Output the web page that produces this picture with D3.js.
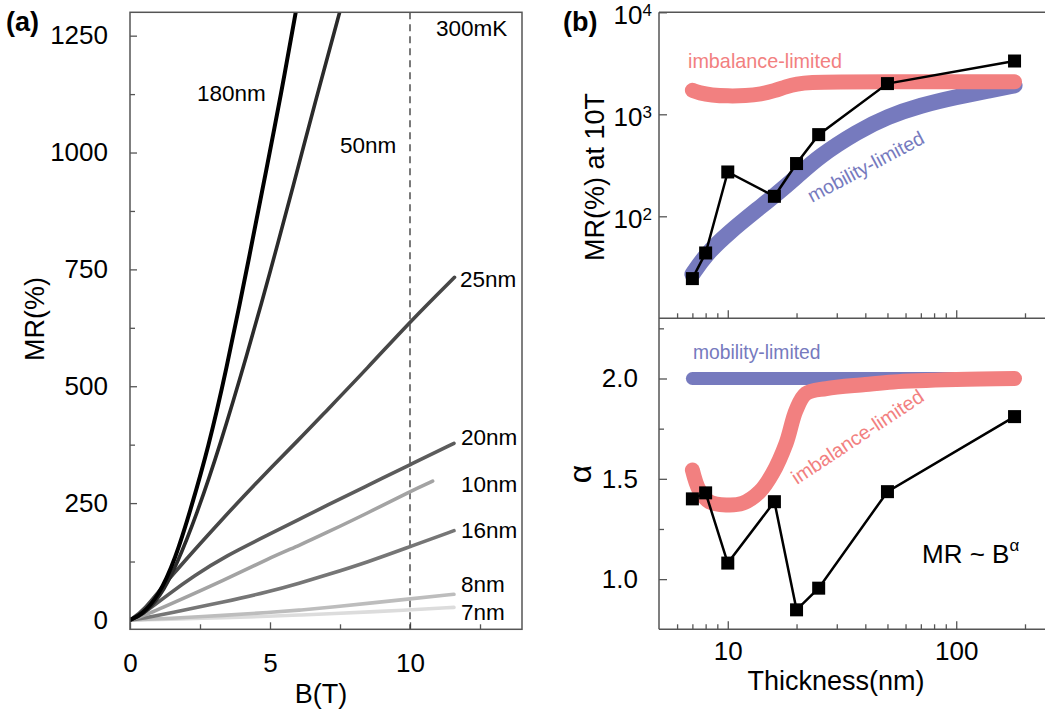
<!DOCTYPE html>
<html>
<head>
<meta charset="utf-8">
<script src="https://cdn.jsdelivr.net/npm/d3@7"></script>
<style>
  body { margin: 0; background: #fff; }
  text { font-family: "Liberation Sans", Arial, sans-serif; }
</style>
</head>
<body>
<div id="chart"></div>
<script>
// ---- panel (a): MR vs B curves ----
var b180  = [0, 0.42, 1.01, 1.61, 2.2, 2.8, 3.39, 4.29, 4.89, 5.38, 5.92, 6.2];
var mr180 = [0, 11, 50, 128, 243, 370, 520, 785, 970, 1120, 1300, 1395];
var b50   = [0, 0.45, 1.07, 1.67, 2.38, 3.2, 4.17, 5.01, 5.86, 6.6, 7.49, 7.8];
var mr50  = [0, 10, 48, 118, 225, 370, 565, 745, 935, 1105, 1300, 1370];
var b25   = [0, 0.5, 1.37, 3.39, 4.58, 6.1, 6.96, 8.5, 10, 11.59];
var mr25  = [0, 20, 88, 222, 298, 390, 444, 540, 638, 733];
var b20   = [0, 0.5, 1.37, 2.3, 3.39, 5, 6.07, 6.96, 8.5, 10, 11.57];
var mr20  = [0, 14, 55, 95, 136, 184, 216, 243, 288, 332, 378];
var b10   = [0, 0.5, 1.37, 3.39, 5, 6.07, 6.96, 8.5, 10, 10.81];
var mr10  = [0, 9, 32, 86, 133, 160, 185, 229, 275, 297];
var b16   = [0, 0.5, 1.37, 3.39, 5, 6.07, 6.96, 8.5, 10, 11.57];
var mr16  = [0, 4, 14, 39, 61, 79, 95, 124, 157, 191];
var b8    = [0, 1.37, 3.39, 5, 6.07, 6.96, 10, 11.57];
var mr8   = [0, 3, 10, 16, 21, 26, 45, 55];
var b7    = [0, 1.37, 3.39, 5, 6.07, 6.96, 10, 11.57];
var mr7   = [0, 1.5, 5, 8, 10.5, 13, 21, 27];

var curveNames  = ["180nm", "50nm", "25nm", "20nm", "10nm", "16nm", "8nm", "7nm"];
var curveColors = ["#000000", "#2b2b2b", "#474747", "#5c5c5c", "#a3a3a3", "#767676", "#bdbdbd", "#dcdcdc"];
var curveB  = [b180, b50, b25, b20, b10, b16, b8, b7];
var curveMR = [mr180, mr50, mr25, mr20, mr10, mr16, mr8, mr7];

var aTicksX = [0, 5, 10];
var aMinorX = [2.5, 7.5, 12.5];
var aTicksY = [0, 250, 500, 750, 1000, 1250];
var aMinorY = [125, 375, 625, 875, 1125];

// ---- panel (b): thickness dependence ----
var thick  = [7, 8, 10, 16, 20, 25, 50, 180];
var mr10T  = [24.5, 43.7, 272, 157, 329, 632, 2000, 3330];
var alphas = [1.40, 1.43, 1.08, 1.386, 0.847, 0.955, 1.436, 1.81];

var imbTopT  = [7, 7.5, 8.5, 10, 12, 14, 16, 18, 20, 23, 30, 50, 100, 180];
var imbTopMR = [1720, 1620, 1540, 1510, 1520, 1580, 1700, 1870, 1990, 2060, 2080, 2080, 2080, 2080];
var mobTopT  = [7, 8, 10, 13.8, 16, 20, 25, 37, 50, 70, 100, 140, 180];
var mobTopMR = [27, 42, 68, 122, 159, 243, 385, 680, 950, 1225, 1478, 1718, 1923];

var mobBotT = [7, 180];
var mobBotA = [2, 2];
var imbBotT = [7, 7.5, 8.3, 9.84, 11.6, 13.8, 15.7, 18, 19.9, 22, 27, 40, 53, 100, 180];
var imbBotA = [1.544, 1.444, 1.386, 1.37, 1.378, 1.436, 1.527, 1.677, 1.842, 1.925, 1.95, 1.97, 1.983, 1.995, 2.0];

var bMajorX = [10, 100];
var bMinorX = [6, 7, 8, 9, 20, 30, 40, 50, 60, 70, 80, 90, 200];
var bTopY   = [100, 1000, 10000];
var bBotY   = [1.0, 1.5, 2.0];
var bBotMinorY = [1.25, 1.75, 2.25];

var W = 1045, H = 715;
var axisCol = "#555";
var FONT = "'Liberation Sans', Arial, sans-serif";

var svg = d3.select("#chart").append("svg")
  .attr("width", W).attr("height", H);

function styleAxis(g, size) {
  g.select(".domain").remove();
  g.selectAll(".tick line").attr("stroke", axisCol).attr("stroke-width", 1.3);
  g.attr("font-family", FONT).attr("font-size", size || 26);
  g.selectAll(".tick text").attr("fill", "#000");
}

// ================= panel (a) =================
var xa = d3.scaleLinear().domain([0, 14]).range([130, 522]);
var ya = d3.scaleLinear().domain([-20, 1300]).range([629.3, 12.3]);

svg.append("clipPath").attr("id", "clipA")
  .append("rect").attr("x", xa(0)).attr("y", ya(1300))
  .attr("width", xa(14) - xa(0)).attr("height", ya(-20) - ya(1300));

// ticks
svg.append("g").attr("transform", "translate(" + xa(0) + ",0)")
  .call(d3.axisLeft(ya).tickValues(aTicksY).tickSize(-7).tickPadding(22).tickFormat(d3.format("d")))
  .call(styleAxis);
svg.append("g").attr("transform", "translate(" + xa(0) + ",0)")
  .call(d3.axisLeft(ya).tickValues(aMinorY).tickSize(-5).tickFormat(""))
  .call(styleAxis);
svg.append("g").attr("transform", "translate(0," + ya(-20) + ")")
  .call(d3.axisBottom(xa).tickValues(aTicksX).tickSize(-7).tickPadding(24))
  .call(styleAxis);
svg.append("g").attr("transform", "translate(0," + ya(-20) + ")")
  .call(d3.axisBottom(xa).tickValues(aMinorX).tickSize(-5).tickFormat(""))
  .call(styleAxis);

// dashed 10 T line
svg.append("line")
  .attr("x1", xa(10)).attr("x2", xa(10))
  .attr("y1", ya(1300)).attr("y2", ya(-20))
  .attr("stroke", "#333").attr("stroke-width", 1.3)
  .attr("stroke-dasharray", "7,5");

// basis spline smooths out the reading noise
var lineA = d3.line()
  .x(function(d) { return xa(d[0]); })
  .y(function(d) { return ya(d[1]); })
  .curve(d3.curveBasis);

var curvesG = svg.append("g").attr("clip-path", "url(#clipA)");
// draw light curves first so the dark ones lie on top
for (var i = curveNames.length - 1; i >= 0; i--) {
  var pts = curveB[i].map(function(b, k) { return [b, curveMR[i][k]]; });
  curvesG.append("path")
    .datum(pts)
    .attr("d", lineA)
    .attr("fill", "none")
    .attr("stroke", curveColors[i])
    .attr("stroke-width", i === 0 ? 4 : 3.6)
    .attr("stroke-linecap", "round");
}

// frame
svg.append("rect")
  .attr("x", xa(0)).attr("y", ya(1300))
  .attr("width", xa(14) - xa(0)).attr("height", ya(-20) - ya(1300))
  .attr("fill", "none").attr("stroke", axisCol).attr("stroke-width", 1.5);

// curve labels
var labA = [
  {t: "180nm", x: 197, y: 101},
  {t: "50nm",  x: 340, y: 153},
  {t: "300mK", x: 436, y: 36},
  {t: "25nm",  x: 460, y: 287},
  {t: "20nm",  x: 461, y: 445},
  {t: "10nm",  x: 461, y: 492},
  {t: "16nm",  x: 461, y: 538},
  {t: "8nm",   x: 461, y: 592},
  {t: "7nm",   x: 461, y: 620}
];
svg.selectAll(".labA").data(labA).enter().append("text")
  .attr("class", "labA")
  .attr("x", function(d) { return d.x; })
  .attr("y", function(d) { return d.y; })
  .attr("font-size", 22.5)
  .text(function(d) { return d.t; });

svg.append("text").attr("x", 321).attr("y", 703)
  .attr("text-anchor", "middle").attr("font-size", 27).text("B(T)");
svg.append("text").attr("transform", "translate(44,319) rotate(-90)")
  .attr("text-anchor", "middle").attr("font-size", 27).text("MR(%)");
svg.append("text").attr("x", 6).attr("y", 31)
  .attr("font-size", 27).attr("font-weight", "bold").text("(a)");

// ================= panel (b) =================
var xb  = d3.scaleLog().domain([5, 200]).range([659, 1025]);
var ybT = d3.scaleLog().domain([10, 10000]).range([318.3, 12.3]);
var ybB = d3.scaleLinear().domain([0.75, 2.3]).range([629.3, 318.3]);

// top y axis (log) with 10^n labels
var gTY = svg.append("g").attr("transform", "translate(659,0)")
  .call(d3.axisLeft(ybT).tickValues(bTopY).tickSize(-8).tickPadding(7).tickFormat(""))
  .call(styleAxis);
gTY.selectAll(".tick text").each(function(d) {
  var t = d3.select(this);
  t.attr("dy", "0.44em").text("10");
  t.append("tspan").attr("dy", "-8px").attr("font-size", 17)
    .text(Math.round(Math.log10(d)));
});

// bottom y axis (alpha)
svg.append("g").attr("transform", "translate(659,0)")
  .call(d3.axisLeft(ybB).tickValues(bBotY).tickSize(-8).tickPadding(21).tickFormat(d3.format(".1f")))
  .call(styleAxis);
svg.append("g").attr("transform", "translate(659,0)")
  .call(d3.axisLeft(ybB).tickValues(bBotMinorY).tickSize(-5).tickFormat(""))
  .call(styleAxis);

// x ticks on both sub-panels
[ybT(10), ybB(0.75)].forEach(function(yy, k) {
  svg.append("g").attr("transform", "translate(0," + yy + ")")
    .call(d3.axisBottom(xb).tickValues(bMajorX).tickSize(-8).tickPadding(12)
      .tickFormat(k === 1 ? d3.format("d") : ""))
    .call(styleAxis);
  svg.append("g").attr("transform", "translate(0," + yy + ")")
    .call(d3.axisBottom(xb).tickValues(bMinorX).tickSize(-5).tickFormat(""))
    .call(styleAxis);
});

// frame lines (right side runs off the page)
[12.3, 318.3, 629.3].forEach(function(yy) {
  svg.append("line").attr("x1", 659).attr("x2", W).attr("y1", yy).attr("y2", yy)
    .attr("stroke", axisCol).attr("stroke-width", 1.5);
});
svg.append("line").attr("x1", 659).attr("x2", 659).attr("y1", 12.3).attr("y2", 629.3)
  .attr("stroke", axisCol).attr("stroke-width", 1.5);

var red = "#f28080", blue = "#767abe";

function band(T, V, yScale, col, w, crv) {
  var pts = T.map(function(t, k) { return [t, V[k]]; });
  svg.append("path").datum(pts)
    .attr("d", d3.line()
      .x(function(d) { return xb(d[0]); })
      .y(function(d) { return yScale(d[1]); })
      .curve(crv || d3.curveBasis))
    .attr("fill", "none").attr("stroke", col)
    .attr("stroke-width", w).attr("stroke-linecap", "round").attr("stroke-linejoin", "round");
}

band(mobTopT, mobTopMR, ybT, blue, 16);
band(imbTopT, imbTopMR, ybT, red, 15);
band(mobBotT, mobBotA, ybB, blue, 13);
band(imbBotT, imbBotA, ybB, red, 15, d3.curveCatmullRom);

function dataSeries(V, yScale) {
  var pts = thick.map(function(t, k) { return [t, V[k]]; });
  svg.append("path").datum(pts)
    .attr("d", d3.line()
      .x(function(d) { return xb(d[0]); })
      .y(function(d) { return yScale(d[1]); }))
    .attr("fill", "none").attr("stroke", "#000").attr("stroke-width", 2.5);
  var s = 13;
  svg.append("g").selectAll("rect").data(pts).enter().append("rect")
    .attr("x", function(d) { return xb(d[0]) - s / 2; })
    .attr("y", function(d) { return yScale(d[1]) - s / 2; })
    .attr("width", s).attr("height", s).attr("fill", "#000");
}
dataSeries(mr10T, ybT);
dataSeries(alphas, ybB);

// annotations
svg.append("text").attr("x", 688).attr("y", 67.5)
  .attr("font-size", 19.8).attr("fill", red).text("imbalance-limited");
svg.append("text").attr("transform", "translate(812,203) rotate(-28)")
  .attr("font-size", 19.5).attr("fill", blue).text("mobility-limited");
svg.append("text").attr("x", 693).attr("y", 358.5)
  .attr("font-size", 19.3).attr("fill", blue).text("mobility-limited");
svg.append("text").attr("transform", "translate(797,485) rotate(-33.5)")
  .attr("font-size", 19.8).attr("fill", red).text("imbalance-limited");

var mrb = svg.append("text").attr("x", 922).attr("y", 563).attr("font-size", 26);
mrb.append("tspan").text("MR ~ B");
mrb.append("tspan").attr("dy", "-12px").attr("font-size", 17).text("α");

svg.append("text").attr("x", 836).attr("y", 690)
  .attr("text-anchor", "middle").attr("font-size", 27).text("Thickness(nm)");
svg.append("text").attr("transform", "translate(604,177) rotate(-90)")
  .attr("text-anchor", "middle").attr("font-size", 27).text("MR(%) at 10T");
svg.append("text").attr("transform", "translate(591,474) rotate(-90)")
  .attr("text-anchor", "middle").attr("font-size", 32).text("α");
svg.append("text").attr("x", 563).attr("y", 31)
  .attr("font-size", 27).attr("font-weight", "bold").text("(b)");
</script>
</body>
</html>
